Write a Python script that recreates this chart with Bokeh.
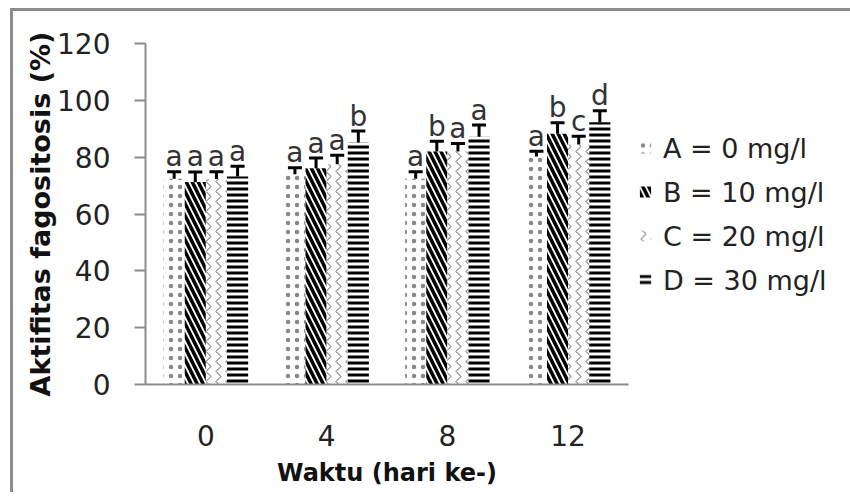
from bokeh.plotting import figure
from bokeh.models import (ColumnDataSource, Whisker, TeeHead, FixedTicker, Legend, LegendItem,
                          Range1d)
from bokeh.embed import file_html
from bokeh.resources import INLINE
from bokeh.core.properties import value

# ---- data ----
days = ["0", "4", "8", "12"]
series = ["A = 0 mg/l", "B = 10 mg/l", "C = 20 mg/l", "D = 30 mg/l"]
A_val = [72.4, 74.0, 72.4, 80.2]
B_val = [71.3, 76.1, 82.0, 88.2]
C_val = [72.3, 77.5, 82.0, 84.5]
D_val = [73.2, 85.2, 87.2, 92.3]
A_err = [2.5, 2.3, 2.5, 1.9]
B_err = [3.5, 3.6, 3.6, 3.9]
C_err = [2.6, 3.2, 2.8, 2.9]
D_err = [3.6, 4.0, 4.1, 4.0]
A_sig = ["a", "a", "a", "a"]
B_sig = ["a", "a", "b", "b"]
C_sig = ["a", "a", "a", "c"]
D_sig = ["a", "b", "a", "d"]
y_ticks = [0, 20, 40, 60, 80, 100, 120]

FONT = "DejaVu Sans"
n = len(days)
xs = list(range(n))
bw = 0.175
offsets = [-1.5 * bw, -0.5 * bw, 0.5 * bw, 1.5 * bw]

p = figure(frame_width=483, frame_height=341,
           x_range=Range1d(-0.5, n - 0.5), y_range=Range1d(0, 120),
           output_backend="svg", toolbar_location=None,
           min_border_left=132, min_border_top=32, min_border_bottom=108, min_border_right=210)
p.styles = {"margin-left": "10px", "margin-top": "8px",
            "border-style": "solid", "border-color": "#8c8c8c",
            "border-width": "3px 0px 0px 3px"}

styles = [
    dict(hatch_pattern="dot", hatch_color="#888888", hatch_scale=9, hatch_weight=0.5),
    dict(hatch_pattern="left_diagonal_line", hatch_color="black", hatch_scale=12, hatch_weight=3.5),
    dict(hatch_pattern="vertical_wave", hatch_color="#555555", hatch_scale=10, hatch_weight=1),
    dict(hatch_pattern="horizontal_line", hatch_color="black", hatch_scale=6, hatch_weight=3),
]
vals = [A_val, B_val, C_val, D_val]
errs = [A_err, B_err, C_err, D_err]
sigs = [A_sig, B_sig, C_sig, D_sig]

renderers = []
for k in range(4):
    xk = [i + offsets[k] for i in xs]
    src = ColumnDataSource(dict(
        x=xk, top=vals[k],
        upper=[v + e for v, e in zip(vals[k], errs[k])],
        lower=[v - e for v, e in zip(vals[k], errs[k])],
        sig=sigs[k]))
    r = p.vbar(x="x", top="top", width=bw, bottom=0, source=src,
               fill_color="white", line_color=None, **styles[k])
    renderers.append(r)
    w = Whisker(base="x", upper="upper", lower="lower", source=src,
                line_color="black", line_width=3,
                upper_head=TeeHead(size=14, line_width=3, line_color="black"),
                lower_head=TeeHead(size=14, line_width=3, line_color="black"))
    p.add_layout(w)
    p.text(x="x", y="upper", text="sig", source=src, y_offset=-15,
           text_align="center", text_baseline="alphabetic",
           text_font=value(FONT), text_font_size="28px", text_color="#333333")

p.xgrid.visible = False
p.ygrid.visible = False
p.outline_line_color = None

p.xaxis.ticker = FixedTicker(ticks=xs)
p.xaxis.major_label_overrides = {i: d for i, d in enumerate(days)}
p.xaxis.major_tick_out = 0
p.xaxis.major_tick_in = 0
p.xaxis.minor_tick_out = 0
p.xaxis.axis_line_color = "#8c8c8c"
p.xaxis.axis_line_width = 2
p.xaxis.major_label_standoff = 40
p.xaxis.major_label_text_font = FONT
p.xaxis.major_label_text_font_size = "28px"
p.xaxis.major_label_text_color = "#222222"
p.xaxis.axis_label = "Waktu (hari ke-)"
p.xaxis.axis_label_text_font = FONT
p.xaxis.axis_label_text_font_style = "bold"
p.xaxis.axis_label_text_font_size = "24px"
p.xaxis.axis_label_text_color = "#111111"
p.xaxis.axis_label_standoff = 10

p.yaxis.ticker = FixedTicker(ticks=y_ticks)
p.yaxis.major_tick_out = 11
p.yaxis.major_tick_in = 0
p.yaxis.minor_tick_out = 0
p.yaxis.axis_line_color = "#8c8c8c"
p.yaxis.axis_line_width = 2
p.yaxis.major_tick_line_color = "#8c8c8c"
p.yaxis.major_tick_line_width = 2
p.yaxis.major_label_standoff = 24
p.yaxis.major_label_text_font = FONT
p.yaxis.major_label_text_font_size = "28px"
p.yaxis.major_label_text_color = "#222222"
p.yaxis.axis_label = "Aktifitas fagositosis (%)"
p.yaxis.axis_label_text_font = FONT
p.yaxis.axis_label_text_font_style = "bold"
p.yaxis.axis_label_text_font_size = "27px"
p.yaxis.axis_label_text_color = "#111111"
p.yaxis.axis_label_standoff = -2

legend = Legend(items=[LegendItem(label=s, renderers=[r]) for s, r in zip(series, renderers)],
                location="center_left", border_line_color=None, background_fill_alpha=0,
                glyph_width=14, glyph_height=14, label_height=30, spacing=13,
                label_standoff=11, padding=10, margin=10,
                label_text_font=FONT, label_text_font_size="27px", label_text_color="#222222")
p.add_layout(legend, "right")

open("out.html", "w").write(file_html(p, INLINE))
